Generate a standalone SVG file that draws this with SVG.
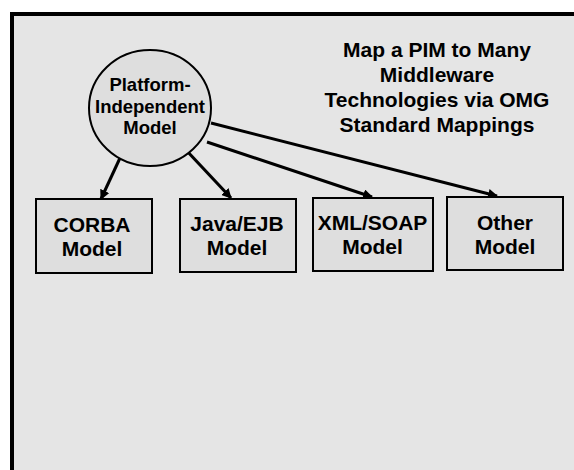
<svg xmlns="http://www.w3.org/2000/svg" width="574" height="470" viewBox="0 0 574 470">
<defs>
<style>
.frame{fill:#e5e5e5;stroke:#000;stroke-width:4}
.node{fill:#dedede;stroke:#000;stroke-width:2}
.t{font-family:"Liberation Sans",Arial,sans-serif;font-weight:bold;fill:#000;text-anchor:middle}
.c{stroke:#000;stroke-width:3;fill:none;marker-end:url(#ah)}
</style>
<marker id="ah" viewBox="0 0 10 10" refX="9" refY="5" markerWidth="3.3" markerHeight="3.3" markerUnits="strokeWidth" orient="auto">
<path d="M0,0 L10,5 L0,10 z" fill="#000"/>
</marker>
</defs>
<rect x="0" y="0" width="574" height="470" fill="#fff"/>
<rect class="frame" x="12" y="14" width="600" height="500"/>
<g id="title">
<text class="t" font-size="21" x="437" y="57">Map a PIM to Many</text>
<text class="t" font-size="21" x="437" y="82">Middleware</text>
<text class="t" font-size="21" x="437" y="107">Technologies via OMG</text>
<text class="t" font-size="21" x="437" y="132">Standard Mappings</text>
</g>
<g id="connectors">
<line class="c" x1="120" y1="158" x2="101" y2="199"/>
<line class="c" x1="186" y1="150" x2="231" y2="198"/>
<line class="c" x1="207" y1="142" x2="372" y2="197"/>
<line class="c" x1="211" y1="123" x2="497" y2="196"/>
</g>
<g id="pim">
<ellipse class="node" cx="150" cy="108" rx="61" ry="58"/>
<text class="t" font-size="18.5" x="150" y="91">Platform-</text>
<text class="t" font-size="18.5" x="150" y="112.5">Independent</text>
<text class="t" font-size="18.5" x="150" y="134">Model</text>
</g>
<g id="corba">
<rect class="node" x="36" y="199" width="116" height="74"/>
<text class="t" font-size="21" x="92" y="232">CORBA</text>
<text class="t" font-size="21" x="92" y="256">Model</text>
</g>
<g id="java">
<rect class="node" x="180" y="199" width="116" height="73"/>
<text class="t" font-size="21" x="237" y="231">Java/EJB</text>
<text class="t" font-size="21" x="237" y="255">Model</text>
</g>
<g id="xml">
<rect class="node" x="313" y="198" width="120" height="73"/>
<text class="t" font-size="21" x="372.5" y="230">XML/SOAP</text>
<text class="t" font-size="21" x="372.5" y="254">Model</text>
</g>
<g id="other">
<rect class="node" x="447" y="197" width="116" height="73"/>
<text class="t" font-size="21" x="505" y="230">Other</text>
<text class="t" font-size="21" x="505" y="254">Model</text>
</g>
</svg>
